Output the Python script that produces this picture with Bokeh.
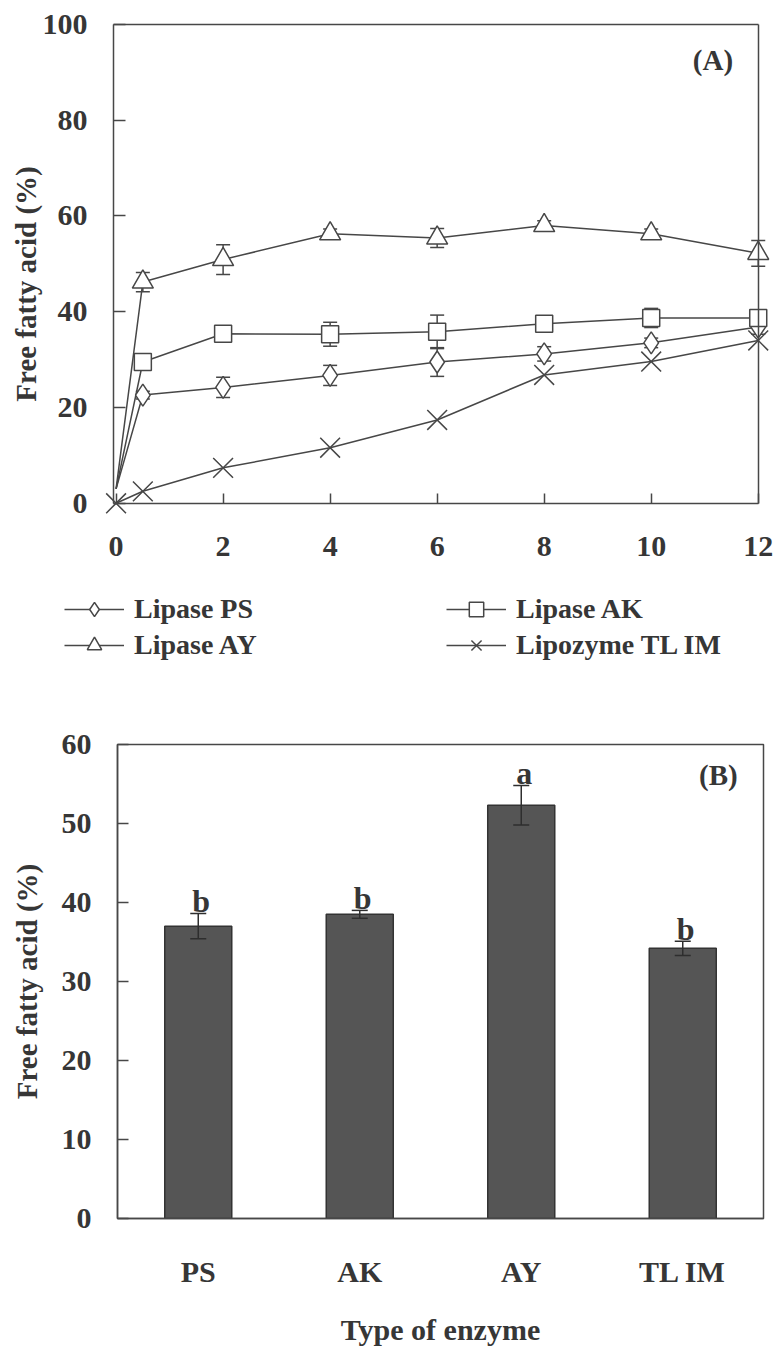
import math
from bokeh.plotting import figure
from bokeh.models import (Range1d, FactorRange, LinearAxis, FixedTicker, Legend, LegendItem, Label)
from bokeh.embed import file_html
from bokeh.resources import INLINE
from bokeh.core.properties import value

# ---------------- data ----------------
time_h = [0, 0.5, 2, 4, 6, 8, 10, 12]
ps = [3.0, 22.6, 24.2, 26.7, 29.5, 31.2, 33.5, 36.8]
ps_err = [0, 0.8, 2.1, 2.1, 3.0, 1.5, 1.0, 1.5]
ak = [3.0, 29.5, 35.4, 35.3, 35.8, 37.5, 38.7, 38.7]
ak_err = [0, 0.8, 0.8, 2.5, 3.5, 0.8, 2.0, 0.4]
ay = [3.0, 46.2, 50.9, 56.3, 55.4, 58.0, 56.3, 52.2]
ay_err = [0, 2.0, 3.1, 1.0, 2.0, 1.0, 1.0, 2.7]
tl = [0.0, 2.5, 7.4, 11.6, 17.4, 26.8, 29.6, 34.0]
tl_err = [0, 0, 0, 0, 0, 0, 0, 0]

x_ticks_a = [0, 2, 4, 6, 8, 10, 12]
y_ticks_a = [0, 20, 40, 60, 80, 100]

enzymes = ["PS", "AK", "AY", "TL IM"]
ffa_12h = [37.0, 38.5, 52.3, 34.2]
ffa_12h_err = [1.6, 0.5, 2.5, 0.9]
letters = ["b", "b", "a", "b"]
y_ticks_b = [0, 10, 20, 30, 40, 50, 60]

FONT = "Liberation Serif"
INK = "#363636"
LINE = "#474747"


def label_style(ax, size="30px"):
    ax.major_label_text_font = FONT
    ax.major_label_text_font_style = "bold"
    ax.major_label_text_font_size = size
    ax.major_label_text_color = INK


def title_style(ax, text, size="29px"):
    ax.axis_label = text
    ax.axis_label_text_font = FONT
    ax.axis_label_text_font_style = "bold"
    ax.axis_label_text_font_size = size
    ax.axis_label_text_color = INK


def spine(ax, ticks, tick_in, standoff=None):
    ax.ticker = FixedTicker(ticks=ticks)
    ax.axis_line_color = LINE
    ax.axis_line_width = 1.5
    ax.major_tick_line_color = LINE
    ax.major_tick_line_width = 1.5
    ax.minor_tick_line_color = None
    ax.major_tick_in = tick_in
    ax.major_tick_out = 0
    if standoff is None:
        ax.major_label_standoff = 0
        ax.major_label_text_font_size = "0px"
    else:
        ax.major_label_standoff = standoff
        label_style(ax)


# ---------------- panel A ----------------
# The frame covers the whole figure so that markers on the box edges, the tick
# labels, the axis title and the legend are all drawn inside it.
pA = figure(width=777, height=690, x_range=Range1d(-2.16, 12.36), y_range=Range1d(-39.1, 105.0),
            output_backend="svg", toolbar_location=None,
            x_axis_location=None, y_axis_location=None,
            min_border=0, min_border_left=0, min_border_right=0, min_border_top=0,
            min_border_bottom=0,
            background_fill_color="white", border_fill_color="white")
pA.outline_line_color = None
pA.xgrid.grid_line_color = None
pA.ygrid.grid_line_color = None

sp_left = LinearAxis(fixed_location=-0.05, bounds=(0, 100))
spine(sp_left, y_ticks_a, 12, standoff=26)
pA.add_layout(sp_left, "left")
sp_bot = LinearAxis(fixed_location=0, bounds=(-0.05, 12))
spine(sp_bot, x_ticks_a, 10, standoff=34)
pA.add_layout(sp_bot, "below")
sp_top = LinearAxis(fixed_location=100, bounds=(-0.05, 12))
spine(sp_top, [], 0)
pA.add_layout(sp_top, "above")
sp_right = LinearAxis(fixed_location=12, bounds=(0, 100))
spine(sp_right, [], 0)
pA.add_layout(sp_right, "right")

series = [
    ("Lipase PS", ps, ps_err, dict(marker="diamond", size=22), 1),
    ("Lipase AK", ak, ak_err, dict(marker="square", size=17), 1),
    ("Lipase AY", ay, ay_err, dict(marker="triangle", size=21), 1),
    ("Lipozyme TL IM", tl, tl_err, dict(marker="x", size=28), 0),
]

line_r = {}
for name, vals, errs, mk, start in series:
    line_r[name] = pA.line(time_h, vals, line_color=LINE, line_width=1.5)

for name, vals, errs, mk, start in series:
    tt = [t for t, e in zip(time_h, errs) if e > 0]
    lo = [v - e for v, e in zip(vals, errs) if e > 0]
    hi = [v + e for v, e in zip(vals, errs) if e > 0]
    if tt:
        pA.segment(x0=tt, y0=lo, x1=tt, y1=hi, line_color=LINE, line_width=1.5)
        pA.scatter(tt, hi, marker="dash", size=14, line_color=LINE, line_width=1.5)
        pA.scatter(tt, lo, marker="dash", size=14, line_color=LINE, line_width=1.5)

mark_r = {}
for name, vals, errs, mk, start in series:
    mark_r[name] = pA.scatter(time_h[start:], vals[start:], fill_color="white",
                              line_color=LINE, line_width=1.5, **mk)

pA.add_layout(Label(x=11.53, y=92.5, text="(A)", text_align="right", text_baseline="middle",
                    text_font=FONT, text_font_style="bold", text_font_size="29px",
                    text_color=INK))
pA.add_layout(Label(x=-1.69, y=45.8, text="Free fatty acid (%)", angle=math.pi / 2,
                    text_align="center", text_baseline="middle",
                    text_font=FONT, text_font_style="bold", text_font_size="29px",
                    text_color=INK))


def make_legend(names, loc):
    leg = Legend(items=[LegendItem(label=n, renderers=[line_r[n], mark_r[n]]) for n in names],
                 location=loc, orientation="vertical")
    leg.glyph_width = 60
    leg.glyph_height = 36
    leg.label_height = 28
    leg.spacing = -8
    leg.padding = 0
    leg.margin = 0
    leg.label_standoff = 10
    leg.border_line_color = None
    leg.background_fill_alpha = 0
    leg.label_text_font = FONT
    leg.label_text_font_style = "bold"
    leg.label_text_font_size = "28px"
    leg.label_text_color = INK
    return leg


pA.add_layout(make_legend(["Lipase PS", "Lipase AY"], (64, 27)))
pA.add_layout(make_legend(["Lipase AK", "Lipozyme TL IM"], (446, 27)))

# ---------------- panel B ----------------
pB = figure(width=777, height=658, x_range=FactorRange(*enzymes, range_padding=0),
            y_range=Range1d(0, 60), output_backend="svg", toolbar_location=None,
            min_border_left=117, min_border_right=14, min_border_top=54, min_border_bottom=125,
            background_fill_color="white", border_fill_color="white")
pB.outline_line_color = LINE
pB.outline_line_width = 1.5
pB.xgrid.grid_line_color = None
pB.ygrid.grid_line_color = None

pB.vbar(x=enzymes, top=ffa_12h, width=0.415, fill_color="#555555", line_color="#333333",
        line_width=1.5)
lo_b = [v - e for v, e in zip(ffa_12h, ffa_12h_err)]
hi_b = [v + e for v, e in zip(ffa_12h, ffa_12h_err)]
pB.segment(x0=enzymes, y0=lo_b, x1=enzymes, y1=hi_b, line_color="#2e2e2e", line_width=1.5)
pB.scatter(enzymes, hi_b, marker="dash", size=16, line_color="#2e2e2e", line_width=1.5)
pB.scatter(enzymes, lo_b, marker="dash", size=16, line_color="#2e2e2e", line_width=1.5)
pB.text(x=enzymes, y=[h + 1.6 for h in hi_b], text=letters, x_offset=3,
        text_align="center", text_baseline="middle",
        text_font=value(FONT), text_font_style="bold", text_font_size="32px", text_color=INK)

yb = pB.yaxis[0]
yb.ticker = FixedTicker(ticks=y_ticks_b)
yb.axis_line_color = LINE
yb.axis_line_width = 1.5
yb.major_tick_line_color = LINE
yb.major_tick_line_width = 1.5
yb.major_tick_in = 11
yb.major_tick_out = 0
yb.minor_tick_line_color = None
yb.major_label_standoff = 26
label_style(yb)
title_style(yb, "Free fatty acid (%)")
yb.axis_label_standoff = 16

xb = pB.xaxis[0]
xb.axis_line_color = LINE
xb.axis_line_width = 1.5
xb.major_tick_line_color = None
xb.minor_tick_line_color = None
xb.major_label_standoff = 30
label_style(xb)
title_style(xb, "Type of enzyme", size="30px")
xb.axis_label_standoff = 22

pB.add_layout(Label(x=3.84, y=56.2, text="(B)", text_align="right", text_baseline="middle",
                    text_font=FONT, text_font_style="bold", text_font_size="29px",
                    text_color=INK))

open("out.html", "w").write(file_html([pA, pB], INLINE))
